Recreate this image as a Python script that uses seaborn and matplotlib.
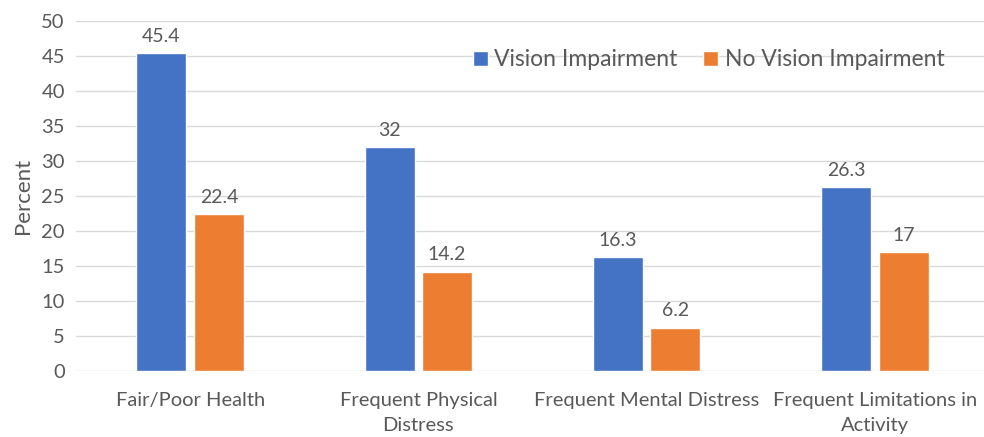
import pandas as pd
import matplotlib.pyplot as plt
import seaborn as sns

# Datos
categorias = ["Fair/Poor Health", "Frequent Physical\nDistress",
              "Frequent Mental Distress", "Frequent Limitations in\nActivity"]
grupos = ["Vision Impairment", "No Vision Impairment"]
vision = [45.4, 32, 16.3, 26.3]
no_vision = [22.4, 14.2, 6.2, 17]

df = pd.DataFrame({
    "categoria": categorias * 2,
    "grupo": [grupos[0]] * 4 + [grupos[1]] * 4,
    "valor": vision + no_vision,
})

sns.set_theme(style="white")
plt.rcParams["font.family"] = ["Lato", "DejaVu Sans"]
gris = "#595959"

fig = plt.figure(figsize=(9.84, 4.37), dpi=100)
ax = fig.add_axes([76 / 984, 66 / 437, 913 / 984, 350 / 437])

sns.barplot(data=df, x="categoria", y="valor", hue="grupo",
            palette=["#4472C4", "#ED7D31"], width=0.504, gap=0.13,
            saturation=1, ax=ax, zorder=3)

for cont in ax.containers:
    ax.bar_label(cont, labels=[f"{v:g}" for v in cont.datavalues],
                 padding=6, fontsize=14, color=gris)

ax.set_ylim(0, 50)
ax.set_yticks(range(0, 51, 5))
ax.set_xlim(-0.5, 3.5)
ax.grid(True, axis="y", color="#D9D9D9", linewidth=1, zorder=0)
for s in ax.spines.values():
    s.set_visible(False)
ax.tick_params(axis="both", length=0, labelsize=14.5, colors=gris)
ax.tick_params(axis="x", pad=15)
ax.tick_params(axis="y", pad=8)
for lbl in ax.get_xticklabels():
    lbl.set_linespacing(1.6)
ax.set_xlabel("")
ax.set_ylabel("Percent", fontsize=16, color=gris, labelpad=6)

ax.legend(title=None, ncol=2, frameon=False, fontsize=16.5,
          loc="center left", bbox_to_anchor=(452 / 984, 1 - 60 / 437),
          bbox_transform=fig.transFigure, handlelength=0.65, handleheight=0.65,
          handletextpad=0.3, columnspacing=1.1, labelcolor=gris)

fig.savefig("out.png", dpi=100)
